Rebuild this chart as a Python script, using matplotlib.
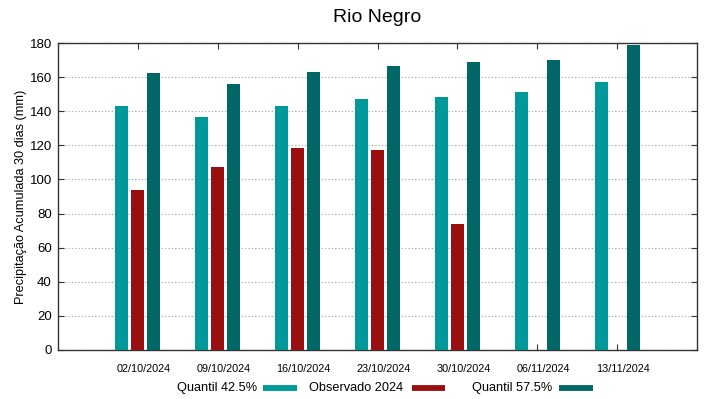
import matplotlib
matplotlib.use('Agg')
import matplotlib.pyplot as plt
import matplotlib.transforms as mtransforms
from matplotlib.lines import Line2D
import numpy as np

plt.rcParams['font.family'] = ['Liberation Sans', 'DejaVu Sans']

dates = ['02/10/2024', '09/10/2024', '16/10/2024', '23/10/2024',
         '30/10/2024', '06/11/2024', '13/11/2024']
q425 = [143.2, 136.4, 142.9, 147.0, 148.5, 151.3, 157.0]
obs2024 = [93.6, 107.5, 118.6, 117.3, 73.7, np.nan, np.nan]
q575 = [162.2, 156.0, 163.0, 166.3, 168.7, 170.0, 179.0]
series_names = ['Quantil 42.5%', 'Observado 2024', 'Quantil 57.5%']

c_low = '#009999'
c_obs = '#990f0f'
c_high = '#006666'

W, H = 719, 399
fig = plt.figure(figsize=(W / 100, H / 100), dpi=100)
ax = fig.add_axes([58 / W, 1 - 350 / H, 639 / W, 307 / H])

x = np.arange(1, len(dates) + 1)
w = 0.1625
ax.bar(x - 0.2, q425, width=w, color=c_low, zorder=3)
ax.bar(x, obs2024, width=w, color=c_obs, zorder=3)
ax.bar(x + 0.2, q575, width=w, color=c_high, zorder=3)

ax.set_xlim(0, 8)
ax.set_ylim(0, 180)
ax.set_yticks(np.arange(0, 181, 20))
ax.set_xticks(x)
ax.set_xticklabels(dates, fontsize=7.8)
ax.tick_params(axis='both', direction='in', top=True, right=True,
               length=4, width=0.8, color='#333333')
ax.tick_params(axis='y', labelsize=9.5, pad=4.5)
ax.tick_params(axis='x', pad=10)
# gnuplot puts the date labels a little right of the tick
offset = mtransforms.ScaledTranslation(6 / 100, 0, fig.dpi_scale_trans)
for lbl in ax.get_xticklabels():
    lbl.set_transform(lbl.get_transform() + offset)

ax.yaxis.grid(True, color='#a0a0a0', linestyle=(0, (1, 2)), linewidth=0.8, zorder=0)
for s in ax.spines.values():
    s.set_color('#333333')
    s.set_linewidth(1.0)

ax.set_ylabel('Precipitação Acumulada 30 dias (mm)', fontsize=9.2, labelpad=2)
fig.text(377 / W, 1 - 17 / H, 'Rio Negro', ha='center', va='center', fontsize=14)

# legend below the axes, gnuplot style: text then sample line
ly = 1 - 388 / H
legend_pos = [(257, 263, 297), (403, 412, 445), (552, 559, 593)]
for name, col, (tx, s0, s1) in zip(series_names, (c_low, c_obs, c_high), legend_pos):
    fig.text(tx / W, ly, name, ha='right', va='center', fontsize=9.2)
    fig.add_artist(Line2D([s0 / W, s1 / W], [ly, ly], transform=fig.transFigure,
                          color=col, linewidth=4.2, solid_capstyle='butt'))

fig.savefig('out.png', dpi=100)
